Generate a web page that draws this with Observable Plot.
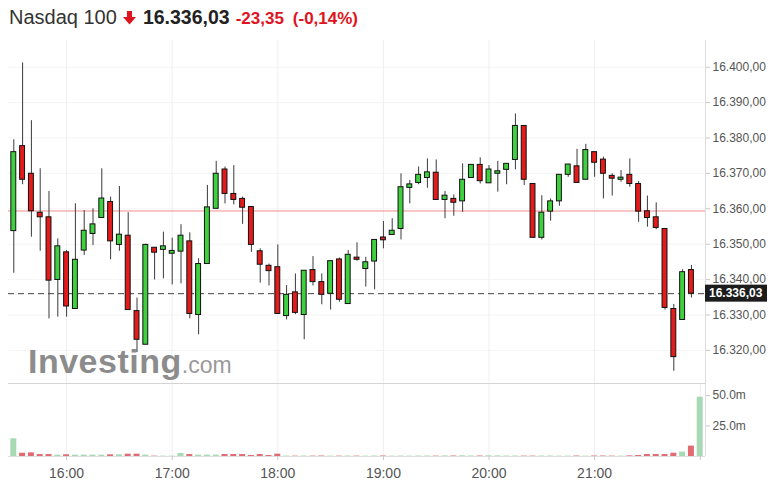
<!DOCTYPE html>
<html><head><meta charset="utf-8">
<script src="https://cdn.jsdelivr.net/npm/d3@7"></script>
<script src="https://cdn.jsdelivr.net/npm/@observablehq/plot@0.6"></script>
<style>
body{margin:0;background:#fff;font-family:Arial,"Liberation Sans",Helvetica,sans-serif;}
#wrap{position:relative;width:777px;height:497px;overflow:hidden;background:#fff}
#title{position:absolute;left:9px;top:5px;display:flex;align-items:baseline;white-space:nowrap;line-height:24px}
#title .name{font-size:20px;color:#333;}
#title .arrow{margin:0 7px 0 6px;align-self:center;}
#title .last{font-size:19.5px;font-weight:bold;color:#222;margin-right:6px}
#title .chg{font-size:17px;font-weight:bold;color:#e0141e;margin-right:9px}
#title .pct{font-size:17px;font-weight:bold;color:#e0141e}
#price{position:absolute;left:0;top:40px}
#sep{position:absolute;left:8px;top:383px;width:697px;height:1px;background:#d4d4d4}
#vol{position:absolute;left:0;top:384px}
svg{font-family:Arial,"Liberation Sans",Helvetica,sans-serif}
</style></head><body>
<div id="wrap">
  <div id="title">
    <span class="name" id="tName"></span>
    <svg class="arrow" width="13" height="14" viewBox="0 0 13 14"><rect x="4" y="0" width="5" height="7" fill="#e0141e"/><polygon points="0,6 13,6 6.5,13.5" fill="#e0141e"/></svg>
    <span class="last" id="tLast"></span>
    <span class="chg" id="tChg"></span>
    <span class="pct" id="tPct"></span>
  </div>
  <div id="price"></div>
  <div id="sep"></div>
  <div id="vol"></div>
</div>
<script>
// ---- data (5-minute candles from 15:30) ----
const instrument = "Nasdaq 100";
const lastPrice = 16336.03;
const prevClose = 16359.38;
const change = -23.35;
const changePct = -0.14;

const opens  = [16353.7,16377.7,16369.9,16358.9,16357.6,16339.9,16347.7,16331.7,16348.2,16352.9,
                16357.4,16361.9,16349.8,16352.4,16331.1,16321.6,16349.0,16348.4,16347.3,16347.9,
                16350.8,16330.0,16344.4,16360.0,16371.1,16364.2,16362.8,16360.5,16348.0,16343.9,
                16343.5,16329.7,16336.4,16330.0,16342.7,16339.3,16336.0,16345.7,16333.1,16346.2,
                16343.0,16345.1,16351.9,16352.6,16354.3,16365.9,16367.3,16368.7,16370.2,16362.5,
                16362.8,16362.1,16368.7,16372.4,16367.2,16369.9,16371.0,16373.8,16383.4,16367.0,
                16351.8,16359.2,16362.1,16369.6,16372.0,16368.2,16376.0,16373.9,16369.3,16368.2,
                16369.6,16367.0,16359.3,16357.6,16354.3,16331.7,16328.6,16342.7];
const highs  = [16379.5,16401.2,16384.9,16371.3,16364.9,16351.5,16348.2,16361.4,16359.5,16360.0,
                16371.3,16363.3,16366.3,16358.9,16334.8,16350.0,16349.0,16353.4,16351.7,16355.5,
                16353.2,16345.9,16366.6,16373.4,16371.8,16372.2,16363.3,16360.5,16348.7,16344.4,
                16349.8,16338.3,16341.6,16342.5,16346.5,16341.6,16345.2,16346.1,16348.2,16350.4,
                16346.3,16351.2,16356.4,16357.2,16369.9,16368.0,16371.8,16374.1,16373.8,16364.9,
                16363.9,16372.7,16372.4,16374.4,16372.2,16373.4,16372.7,16386.8,16383.4,16367.0,
                16363.7,16362.8,16369.6,16372.5,16376.8,16378.2,16376.0,16374.6,16369.9,16370.8,
                16374.1,16367.7,16363.6,16361.7,16354.3,16333.0,16342.8,16344.0];
const lows   = [16341.8,16366.8,16352.0,16348.0,16328.9,16329.4,16329.4,16331.7,16346.8,16349.6,
                16357.4,16345.6,16348.0,16331.4,16319.4,16321.6,16339.9,16340.2,16338.5,16338.8,
                16328.9,16324.4,16344.4,16360.0,16361.4,16361.1,16355.6,16347.7,16339.0,16338.2,
                16330.3,16328.6,16330.1,16323.0,16338.2,16332.9,16331.4,16333.6,16333.1,16345.2,
                16337.9,16337.1,16348.7,16352.6,16351.2,16361.4,16366.8,16365.8,16362.5,16357.2,
                16357.9,16359.0,16368.7,16367.0,16367.2,16364.7,16366.8,16371.0,16366.6,16351.8,
                16351.2,16356.5,16360.7,16368.9,16367.3,16368.2,16368.9,16362.8,16363.6,16367.5,
                16366.1,16356.2,16354.8,16354.1,16331.4,16314.1,16328.6,16334.8];
const closes = [16376.0,16368.2,16359.3,16357.6,16339.7,16349.4,16332.4,16345.6,16353.8,16355.6,
                16362.9,16350.8,16352.7,16331.4,16323.0,16349.8,16347.6,16349.4,16348.1,16352.4,
                16330.3,16344.4,16360.4,16369.9,16364.2,16362.5,16360.3,16349.8,16344.2,16342.4,
                16330.3,16335.7,16330.6,16342.5,16339.3,16335.7,16345.2,16334.3,16347.0,16345.6,
                16344.9,16351.2,16351.1,16353.8,16366.1,16366.9,16369.6,16370.3,16362.5,16363.7,
                16361.7,16368.2,16372.4,16367.8,16371.1,16370.6,16372.7,16383.4,16368.2,16351.8,
                16358.9,16362.1,16369.6,16372.5,16367.3,16376.6,16373.0,16369.9,16368.5,16368.8,
                16367.0,16359.2,16357.4,16354.6,16332.0,16318.1,16342.1,16336.03];
// volume in millions; last entry = 22:00 closing auction
const volumesM = [14.5,2.7,3.0,1.6,1.6,1.1,1.4,1.1,1.1,1.1,
                  1.1,1.4,1.4,1.9,1.9,1.1,0.3,0.3,0.3,2.5,
                  1.6,1.1,1.1,1.1,1.6,1.6,1.6,0.8,1.6,0.8,
                  1.9,0.4,0.3,0.4,0.3,0.4,0.3,0.3,0.4,0.3,
                  0.3,0.4,0.4,0.3,0.4,0.3,0.4,0.4,0.3,0.5,
                  0.4,0.6,0.4,0.4,0.6,0.5,0.4,0.4,0.3,0.3,
                  0.4,0.4,0.3,0.3,0.4,0.3,0.4,0.4,0.3,0.3,
                  0.5,0.8,1.6,1.6,1.6,2.7,3.6,8.5,48.6];
const priceTicks = [16320,16330,16340,16350,16360,16370,16380,16390,16400];
const volumeTicksM = [25,50];
const sessionStart = Date.UTC(2023,10,30,15,30);

// ---- derived ----
const stepMs = 5*60*1000;
const volTimes = volumesM.map((_, i) => new Date(sessionStart + i*stepMs));
const candles = opens.map((o, i) => ({t: volTimes[i], o, h: highs[i], l: lows[i], c: closes[i], up: closes[i] >= o}));
const vols = volumesM.map((v, i) => ({t: volTimes[i], v: v*1e6, up: i < candles.length ? candles[i].up : true}));
const candleHours = candles.map(d => d.t).filter(t => t.getUTCMinutes() === 0);
const volHours = volTimes.filter(t => t.getUTCMinutes() === 0);
const xDomain = [new Date(sessionStart - 0.602*stepMs), new Date(sessionStart + 78.6*stepMs)];

const locale = d3.formatLocale({decimal: ",", thousands: ".", grouping: [3], currency: ["", ""], minus: "-"});
const fmtPrice = locale.format(",.2f");
const fmtTime = d3.utcFormat("%H:%M");
const green = "#3fd03f", red = "#e31b1b";
const volGreen = "#a6d9b4", volRed = "#e06b72";
const bodyHalf = 1.4*60*1000, volHalf = 1.7*60*1000;

document.getElementById("tName").textContent = instrument;
document.getElementById("tLast").textContent = fmtPrice(lastPrice);
document.getElementById("tChg").textContent = locale.format(".2f")(change);
document.getElementById("tPct").textContent = "(" + locale.format(".2f")(changePct) + "%)";

function watermark(index, scales, values, dims) {
  const g = d3.create("svg:g");
  const t = g.append("text").attr("x", dims.marginLeft + 20).attr("y", dims.height - 11).attr("text-anchor", "start");
  t.append("tspan").attr("font-size", 34).attr("font-weight", "bold").attr("letter-spacing", 0.5).attr("fill", "#8c8c8c").text("Investing");
  t.append("tspan").attr("font-size", 23).attr("fill", "#9a9a9a").text(".com");
  return g.node();
}
function lastLabel(index, scales, values, dims) {
  const g = d3.create("svg:g");
  const y = scales.y(lastPrice);
  const x0 = dims.width - dims.marginRight;
  g.append("rect").attr("x", x0).attr("y", y - 8.5).attr("width", 62).attr("height", 17).attr("fill", "#1c1c1c");
  g.append("text").attr("x", x0 + 4).attr("y", y).attr("dy", "0.36em").attr("fill", "#fff").attr("text-anchor", "start")
    .attr("font-weight", "bold").attr("font-size", 12).text(fmtPrice(lastPrice));
  return g.node();
}

const price = Plot.plot({
  width: 777, height: 344,
  marginLeft: 8, marginRight: 72, marginTop: 0, marginBottom: 0,
  x: {type: "utc", domain: xDomain, axis: null},
  y: {domain: [16310.37, 16407.54], label: null},
  marks: [
    Plot.ruleY(priceTicks, {stroke: "#f4f4f4"}),
    Plot.ruleX(candleHours, {stroke: "#efefef"}),
    watermark,
    Plot.ruleY([prevClose], {stroke: "#f08c8c"}),
    Plot.ruleY([lastPrice], {stroke: "#444", strokeDasharray: "6,4"}),
    Plot.ruleX(candles, {x: "t", y1: "l", y2: "h", stroke: "#3a3a3a"}),
    Plot.rect(candles, {x1: d => new Date(+d.t - bodyHalf), x2: d => new Date(+d.t + bodyHalf), y1: "o", y2: "c",
      fill: d => d.up ? green : red, stroke: "#111", strokeWidth: 1}),
    Plot.ruleX([xDomain[1]], {stroke: "#dcdcdc"}),
    Plot.axisY(priceTicks, {anchor: "right", label: null, tickSize: 4, tickPadding: 3, tickFormat: fmtPrice, fontSize: 12, color: "#555", stroke: "#c8c8c8"}),
    lastLabel
  ]
});
document.getElementById("price").appendChild(price);

const volume = Plot.plot({
  width: 777, height: 113,
  marginLeft: 8, marginRight: 72, marginTop: 0, marginBottom: 41,
  x: {type: "utc", domain: xDomain, label: null},
  y: {domain: [0, 59e6], label: null},
  marks: [
    Plot.ruleX(volHours, {stroke: "#efefef"}),
    Plot.rect(vols, {x1: d => new Date(+d.t - volHalf), x2: d => new Date(+d.t + volHalf), y1: 0, y2: "v",
      fill: d => d.up ? volGreen : volRed}),
    Plot.ruleY([0], {stroke: "#dedede"}),
    Plot.ruleX([xDomain[1]], {stroke: "#dcdcdc"}),
    Plot.axisX(volHours, {label: null, tickSize: 4, tickPadding: 8, tickFormat: d => d.getUTCHours() === 22 ? "" : fmtTime(d), fontSize: 14, color: "#555", stroke: "#c8c8c8"}),
    Plot.axisY(volumeTicksM.map(v => v*1e6), {anchor: "right", label: null, tickSize: 4, tickPadding: 3, tickFormat: d => (d/1e6).toFixed(1) + "m", fontSize: 12, color: "#555", stroke: "#c8c8c8"})
  ]
});
document.getElementById("vol").appendChild(volume);
</script>
</body></html>
